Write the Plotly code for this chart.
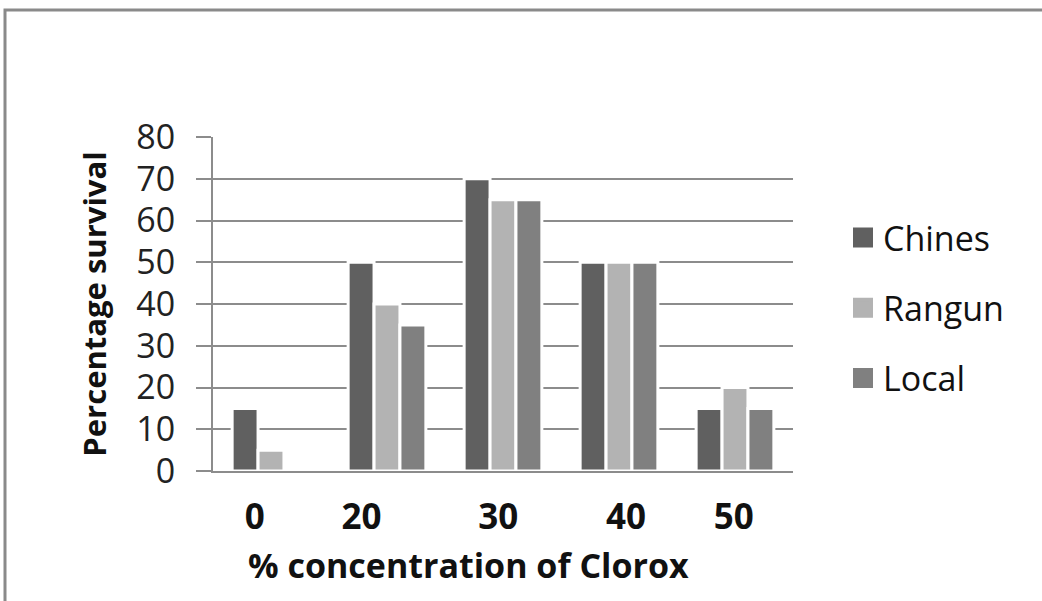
import plotly.graph_objects as go

categories = ["0", "20", "30", "40", "50"]
chines = [15, 50, 70, 50, 15]
rangun = [5, 40, 65, 50, 20]
local = [0, 35, 65, 50, 15]
series_names = ["Chines", "Rangun", "Local"]
series_colors = ["#606060", "#b3b3b3", "#808080"]
y_ticks = [0, 10, 20, 30, 40, 50, 60, 70, 80]

# small horizontal nudges of the category labels, as in the original picture
label_nudge = [-0.14, -0.22, -0.04, 0.06, -0.01]

FONT = "Open Sans"
xpos = list(range(len(categories)))
fig = go.Figure()
for name, vals, col in zip(series_names, [chines, rangun, local], series_colors):
    fig.add_trace(go.Bar(x=xpos, y=vals, name=name, showlegend=False,
                         marker=dict(color=col, line=dict(color="white", width=3))))
for i, (name, col) in enumerate(zip(series_names, series_colors)):
    fig.add_trace(go.Scatter(x=[None], y=[None], mode="markers", name=name,
                             legendgroup=name,
                             marker=dict(symbol="square", size=16, color=col,
                                         line=dict(color=col, width=4))))

L, R, T, B = 213, 793, 137, 471
W, H = 1042, 601
pw, ph = R - L, B - T

fig.update_layout(
    width=W, height=H,
    margin=dict(l=L, r=W - R, t=T, b=H - B, pad=0),
    paper_bgcolor="white", plot_bgcolor="white",
    barmode="group", bargap=0.33, bargroupgap=0,
    font=dict(family=FONT, size=34, color="#222222"),
    showlegend=True,
    legend=dict(x=(843 - L) / pw, xanchor="left", y=(B - 209) / ph, yanchor="top",
                font=dict(family=FONT, size=34, color="#111111"),
                tracegroupgap=23, itemsizing="trace", bgcolor="rgba(0,0,0,0)"),
    xaxis=dict(range=[-0.5, len(categories) - 0.5], showgrid=False, zeroline=False,
               showline=True, linecolor="#8c8c8c", linewidth=2, ticks="",
               tickmode="array", tickvals=[p + n for p, n in zip(xpos, label_nudge)],
               ticktext=categories, ticklabelstandoff=14,
               tickfont=dict(family=FONT, size=35, color="#111111", weight="bold")),
    yaxis=dict(range=[0, 80], tickvals=y_ticks, showgrid=True, gridcolor="#8c8c8c",
               gridwidth=2, showline=True, linecolor="#8c8c8c", linewidth=2,
               ticks="outside", ticklen=15, tickcolor="#8c8c8c", tickwidth=2,
               ticklabelstandoff=14, zeroline=False,
               tickfont=dict(family=FONT, size=34, color="#222222"),
               title=dict(text="Percentage survival", standoff=20,
                          font=dict(family=FONT, size=31, color="#111111", weight="bold"))),
    annotations=[dict(text="% concentration of Clorox", xref="paper", yref="paper",
                      x=(468 - L) / pw, y=(B - 565) / ph, xanchor="center", yanchor="middle",
                      showarrow=False,
                      font=dict(family=FONT, size=34, color="#111111", weight="bold"))],
    shapes=[dict(type="rect", xref="paper", yref="paper",
                 x0=(5 - L) / pw, x1=(W + 20 - L) / pw,
                 y0=(B - (H + 20)) / ph, y1=(B - 10) / ph,
                 line=dict(color="#8a8a8a", width=3), fillcolor="rgba(0,0,0,0)",
                 layer="below")],
)
fig.write_html("out.html")
